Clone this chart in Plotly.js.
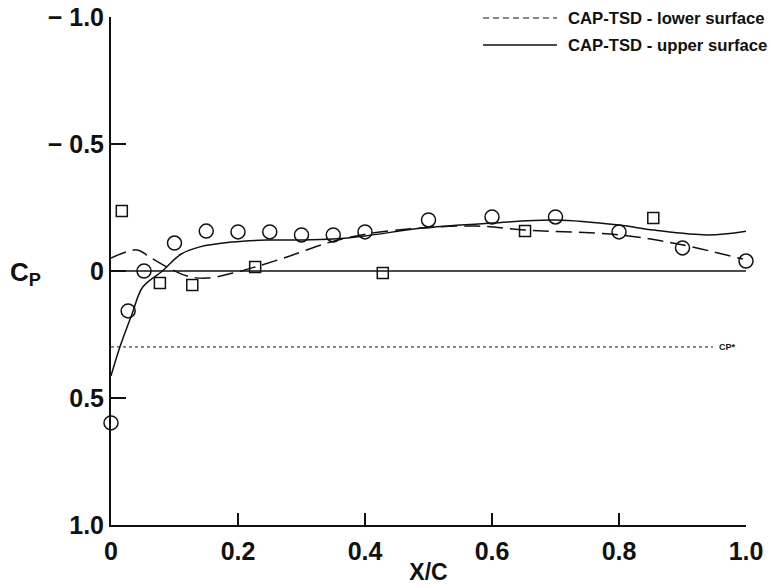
<!DOCTYPE html>
<html>
<head>
<meta charset="utf-8">
<script src="https://cdn.plot.ly/plotly-3.0.1.min.js"></script>
<style>
html,body{margin:0;padding:0;background:#fff;}
#chart{width:771px;height:588px;}
</style>
</head>
<body>
<div id="chart"></div>
<script>
var circleX = [0, 0.027, 0.052, 0.1, 0.15, 0.2, 0.25, 0.3, 0.35, 0.4, 0.5, 0.6, 0.7, 0.8, 0.9, 1.0];
var circleCp = [0.598, 0.157, 0.0, -0.11, -0.157, -0.154, -0.154, -0.142, -0.142, -0.154, -0.201, -0.213, -0.213, -0.154, -0.091, -0.039];

var squareX = [0.017, 0.077, 0.128, 0.227, 0.428, 0.652, 0.854];
var squareCp = [-0.236, 0.047, 0.055, -0.016, 0.008, -0.157, -0.209];

// CAP-TSD upper surface (solid)
var upperX = [0, 0.014, 0.033, 0.05, 0.081, 0.11, 0.14, 0.19, 0.245, 0.3, 0.35, 0.4, 0.49, 0.6, 0.7, 0.8, 0.855, 0.94, 1.0];
var upperCp = [0.413, 0.299, 0.17, 0.063, 0.0, -0.066, -0.095, -0.114, -0.122, -0.122, -0.126, -0.138, -0.169, -0.189, -0.201, -0.181, -0.161, -0.142, -0.157];

// CAP-TSD lower surface (dashed)
var lowerX = [0, 0.041, 0.061, 0.088, 0.12, 0.151, 0.192, 0.227, 0.277, 0.34, 0.403, 0.487, 0.576, 0.652, 0.802, 0.901, 0.995];
var lowerCp = [-0.051, -0.083, -0.055, -0.016, 0.02, 0.028, 0.008, -0.016, -0.055, -0.11, -0.146, -0.169, -0.177, -0.161, -0.142, -0.102, -0.047];

// Reference lines
var zeroX = [0, 1.0];
var zeroCp = [0, 0];
var cpStarX = [0, 0.948];
var cpStarCp = [0.299, 0.299];

// Axis ticks
var xTickVals = [0, 0.2, 0.4, 0.6, 0.8, 1.0];
var xTickText = ["0", "0.2", "0.4", "0.6", "0.8", "1.0"];
var yTickVals = [-1.0, -0.5, 0, 0.5, 1.0];
var yTickText = ["\u2212 1.0", "\u2212 0.5", "0", "0.5", "1.0"];

var legendLabels = ["CAP-TSD - lower surface", "CAP-TSD - upper surface"];

var F = "Liberation Sans, Arial, Helvetica, sans-serif";
var ink = "#111";

var traces = [
  {x: zeroX, y: zeroCp, mode: "lines", line: {color: ink, width: 1.5}, showlegend: false, hoverinfo: "skip"},
  {x: cpStarX, y: cpStarCp, mode: "lines", line: {color: ink, width: 1, dash: "3px,3px"}, showlegend: false, hoverinfo: "skip"},
  {x: upperX, y: upperCp, mode: "lines", name: legendLabels[1], line: {color: ink, width: 1.5, shape: "spline", smoothing: 1}, showlegend: false},
  {x: lowerX, y: lowerCp, mode: "lines", name: legendLabels[0], line: {color: ink, width: 1.5, shape: "spline", smoothing: 1, dash: "16px,7px"}, showlegend: false},
  {x: circleX, y: circleCp, mode: "markers", marker: {symbol: "circle-open", size: 14, color: ink, line: {width: 1.5, color: ink}}, showlegend: false, cliponaxis: false},
  {x: squareX, y: squareCp, mode: "markers", marker: {symbol: "square-open", size: 11, color: ink, line: {width: 1.5, color: ink}}, showlegend: false, cliponaxis: false}
];

function px(xp){ return (xp - 111) / 635; }
function py(yp){ return (525 - yp) / 508; }

var layout = {
  width: 771, height: 588,
  paper_bgcolor: "#fff", plot_bgcolor: "#fff",
  margin: {l: 111, r: 25, t: 17, b: 63},
  showlegend: false,
  font: {family: F, color: ink},
  xaxis: {
    range: [0, 1.0], showgrid: false, zeroline: false,
    showline: true, linecolor: ink, linewidth: 2,
    ticks: "inside", ticklen: 12, tickwidth: 1.5, tickcolor: ink,
    tickvals: xTickVals, ticktext: xTickText,
    tickfont: {family: F, size: 25, color: ink, weight: "bold"},
    ticklabelstandoff: 3,
    title: {text: "X/C", font: {family: F, size: 23, color: ink, weight: "bold"}, standoff: 0},
    automargin: false
  },
  yaxis: {
    range: [1.0, -1.0], showgrid: false, zeroline: false,
    showline: true, linecolor: ink, linewidth: 2,
    ticks: "inside", ticklen: 15, tickwidth: 1.5, tickcolor: ink,
    tickvals: yTickVals, ticktext: yTickText,
    tickfont: {family: F, size: 25, color: ink, weight: "bold"},
    automargin: false
  },
  shapes: [
    {type: "line", xref: "paper", yref: "paper", x0: px(483), x1: px(557), y0: py(18), y1: py(18), line: {color: ink, width: 1.2, dash: "6px,4px"}},
    {type: "line", xref: "paper", yref: "paper", x0: px(483), x1: px(557), y0: py(45), y1: py(45), line: {color: ink, width: 1.5}}
  ],
  annotations: [
    {xref: "paper", yref: "paper", x: px(566), y: py(18), xanchor: "left", yanchor: "middle", text: legendLabels[0], showarrow: false, font: {family: F, size: 16.7, color: ink, weight: "bold"}},
    {xref: "paper", yref: "paper", x: px(566), y: py(45), xanchor: "left", yanchor: "middle", text: legendLabels[1], showarrow: false, font: {family: F, size: 16.7, color: ink, weight: "bold"}},
    {xref: "paper", yref: "paper", x: px(8), y: py(273), xanchor: "left", yanchor: "middle", text: "C<sub>P</sub>", showarrow: false, font: {family: F, size: 26, color: ink, weight: "bold"}},
    {xref: "x", yref: "y", x: 0.955, y: 0.299, xanchor: "left", yanchor: "middle", text: "CP*", showarrow: false, font: {family: F, size: 9, color: ink, weight: "bold"}}
  ]
};

Plotly.newPlot("chart", traces, layout, {displayModeBar: false, staticPlot: true});
</script>
</body>
</html>
